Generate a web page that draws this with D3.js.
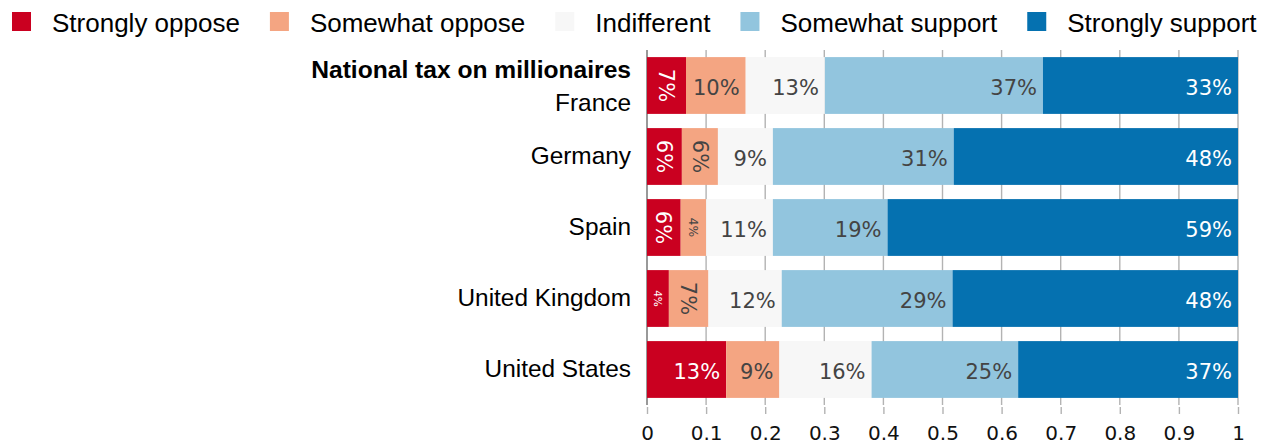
<!DOCTYPE html>
<html>
<head>
<meta charset="utf-8">
<script src="https://cdn.jsdelivr.net/npm/d3@7"></script>
<style>
  html, body { margin: 0; padding: 0; background: #fff; }
  #main { width: 1270px; height: 445px; }
</style>
</head>
<body>
<div id="main"></div>
<script>
const width = 1270;
const height = 445;

const title = "National tax on millionaires";
const countries = ["France", "Germany", "Spain", "United Kingdom", "United States"];
const categories = ["Strongly oppose", "Somewhat oppose", "Indifferent", "Somewhat support", "Strongly support"];
const colors = ["#ca0020", "#f4a582", "#f7f7f7", "#92c5de", "#0571b0"];
const labelColors = ["#fff", "#444", "#444", "#444", "#fff"];

const stronglyOppose = [0.066, 0.059, 0.057, 0.037, 0.134];
const somewhatOppose = [0.101, 0.061, 0.043, 0.067, 0.090];
const indifferent = [0.134, 0.093, 0.113, 0.124, 0.156];
const somewhatSupport = [0.369, 0.306, 0.194, 0.289, 0.248];
const stronglySupport = [0.330, 0.481, 0.593, 0.483, 0.372];
const series = [stronglyOppose, somewhatOppose, indifferent, somewhatSupport, stronglySupport];

const xTicks = [0, 0.1, 0.2, 0.3, 0.4, 0.5, 0.6, 0.7, 0.8, 0.9, 1];

// build rows for the stack
const rows = countries.map((c, i) => {
  const r = { country: c };
  categories.forEach((k, j) => (r[k] = series[j][i]));
  return r;
});
const stacked = d3.stack().keys(categories)(rows);

const x = d3.scaleLinear().domain([0, 1]).range([647, 1238]);
const y = d3.scaleBand().domain(countries).range([50, 405]).paddingInner(0.2).paddingOuter(0.1);

const svg = d3
  .select("#main")
  .append("svg")
  .attr("width", width)
  .attr("height", height);

// grid
svg
  .append("g")
  .selectAll("line")
  .data(xTicks)
  .join("line")
  .attr("x1", (d) => x(d))
  .attr("x2", (d) => x(d))
  .attr("y1", 50)
  .attr("y2", 405)
  .attr("stroke", (d) => (d === 0 ? "#555" : "#b3b3b3"))
  .attr("stroke-width", (d) => (d === 0 ? 1.2 : 1.4));

// x axis
const xAxis = svg
  .append("g")
  .attr("transform", "translate(0,407)")
  .call(
    d3.axisBottom(x)
      .tickValues(xTicks)
      .tickFormat(d3.format("~g"))
      .tickSize(7)
      .tickPadding(12)
  );
xAxis.select(".domain").remove();
xAxis.selectAll(".tick line").attr("stroke", "#b3b3b3").attr("stroke-width", 1.4);
xAxis
  .selectAll(".tick text")
  .attr("font-family", "DejaVu Sans, Verdana, sans-serif")
  .attr("font-size", 20)
  .attr("fill", "#111");

// bars
const layer = svg
  .append("g")
  .selectAll("g")
  .data(stacked)
  .join("g")
  .attr("fill", (d, i) => colors[i]);

layer
  .selectAll("rect")
  .data((d) => d)
  .join("rect")
  .attr("x", (d) => x(d[0]))
  .attr("y", (d) => y(d.data.country))
  .attr("width", (d) => x(d[1]) - x(d[0]))
  .attr("height", y.bandwidth());

// segment labels
const labelFont = 21;
stacked.forEach((s, i) => {
  s.forEach((d) => {
    const x0 = x(d[0]);
    const x1 = x(d[1]);
    const segW = x1 - x0;
    const cy = y(d.data.country) + y.bandwidth() / 2;
    const txt = Math.round((d[1] - d[0]) * 100) + "%";
    const t = svg
      .append("text")
      .attr("font-family", "DejaVu Sans, Verdana, sans-serif")
      .attr("font-size", labelFont)
      .attr("fill", labelColors[i])
      .text(txt);
    const tw = t.node().getComputedTextLength();
    if (tw + 8 <= segW) {
      t.attr("x", x1 - 6).attr("y", cy).attr("dy", "0.43em").attr("text-anchor", "end");
    } else {
      const fs = segW >= 30 ? labelFont : segW * 0.48;
      t.attr("font-size", fs)
        .attr("text-anchor", "middle")
        .attr("dy", "0.35em")
        .attr("transform", `translate(${(x0 + x1) / 2},${cy}) rotate(90)`);
    }
  });
});

// y labels
const yLabels = svg
  .append("g")
  .attr("font-family", "Liberation Sans, Arial, sans-serif")
  .attr("font-size", 24.4)
  .attr("fill", "#000")
  .attr("text-anchor", "end");

countries.forEach((c, i) => {
  const cy = y(c) + y.bandwidth() / 2;
  if (i === 0) {
    yLabels.append("text").attr("x", 631).attr("y", cy - 8).attr("font-weight", "bold").attr("font-size", 24.6).text(title);
    yLabels.append("text").attr("x", 631).attr("y", cy + 25).text(c);
  } else {
    yLabels.append("text").attr("x", 631).attr("y", cy + 7).text(c);
  }
});

// legend
const legend = svg
  .append("g")
  .attr("font-family", "Liberation Sans, Arial, sans-serif")
  .attr("font-size", 26)
  .attr("fill", "#000");

let lx = 12;
categories.forEach((k, i) => {
  legend
    .append("rect")
    .attr("x", lx)
    .attr("y", 12)
    .attr("width", 19)
    .attr("height", 19)
    .attr("fill", colors[i]);
  const t = legend.append("text").attr("x", lx + 40).attr("y", 32).text(k);
  lx += 40 + t.node().getComputedTextLength() + 30;
});
</script>
</body>
</html>
